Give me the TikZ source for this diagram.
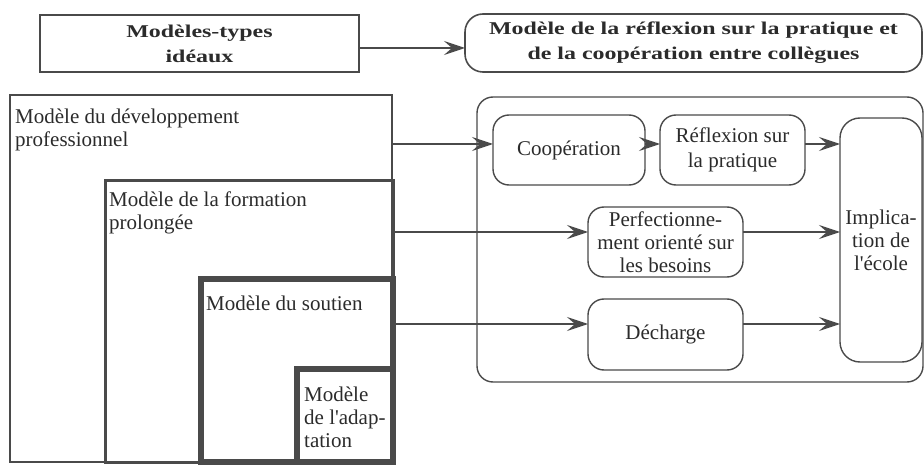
\documentclass[tikz,border=0pt]{standalone}
\usepackage{fontspec}
\setmainfont{Liberation Serif}
\newfontfamily\widebf[FakeStretch=1.33]{Liberation Serif Bold}
\usetikzlibrary{arrows.meta}
\definecolor{ink}{HTML}{4A4A4A}
\definecolor{txt}{HTML}{2B2B2B}
\tikzset{
  frame/.style={draw=ink,line width=#1,inner sep=0pt,outer sep=0pt,anchor=north west},
  rbox/.style={draw=ink,line width=1.4pt,rounded corners=16pt,inner sep=0pt,outer sep=0pt,
    anchor=north west,align=center,text=txt,font=\fontsize{21}{23}\selectfont},
  lbl/.style={inner sep=0pt,anchor=base west,align=left,text=txt,font=\fontsize{21}{23}\selectfont},
  title/.style={font=\fontsize{18}{25}\selectfont\widebf},
  arr/.style={draw=ink,line width=1.6pt,-{Stealth[length=21pt,width=14pt,inset=8pt]}},
}
\begin{document}
\begin{tikzpicture}[x=1pt,y=-1pt]
\useasboundingbox (0,0) rectangle (924,465);
% top row
\node[frame=1.6pt,minimum width=319pt,minimum height=57pt,align=center,text=txt,title]
  (top1) at (40,15) {Modèles-types\\idéaux};
\node[rbox,line width=1.6pt,minimum width=457pt,minimum height=58pt,rounded corners=18pt,title]
  (top2) at (465,14)
  {Modèle de la réflexion sur la pratique et\\de la coopération entre collègues};
% nested models
\node[frame=1.8pt,minimum width=382pt,minimum height=367pt] (big1) at (10,95) {};
\node[frame=3pt,minimum width=288pt,minimum height=281pt] (big2) at (105,181) {};
\node[frame=5.5pt,minimum width=192pt,minimum height=183pt] (big3) at (201,279) {};
\node[frame=5.5pt,minimum width=96pt,minimum height=93pt] (big4) at (297,369) {};
\node[lbl] (t1) at (15,147) {Modèle du développement\\professionnel};
\node[lbl] (t2) at (109,230) {Modèle de la formation\\prolongée};
\node[lbl] (t3) at (206,310) {Modèle du soutien};
\node[lbl] (t4) at (304,447) {Modèle\\de l\textquotesingle adap-\\tation};
% right side
\node[rbox,minimum width=446pt,minimum height=285pt] (cont) at (477,97) {};
\node[rbox,minimum width=152pt,minimum height=70pt] (coop) at (493,115) {Coopération};
\node[rbox,minimum width=145pt,minimum height=70pt,font=\fontsize{21}{25}\selectfont]
  (refl) at (660,115) {Réflexion sur\\la pratique};
\node[rbox,minimum width=82pt,minimum height=244pt,rounded corners=20pt] (impl) at (840,118)
  {Implica-\\tion de\\l\textquotesingle école};
\node[rbox,minimum width=155pt,minimum height=70pt] (perf) at (588,207)
  {Perfectionne-\\ment orienté sur\\les besoins};
\node[rbox,minimum width=155pt,minimum height=71pt] (dech) at (588,299) {Décharge};
% arrows
\coordinate (y0) at (0,48);
\coordinate (y1) at (0,144);
\coordinate (y2) at (0,232);
\coordinate (y3) at (0,324);
\draw[arr] (top1.east |- y0) -- (top2.west |- y0);
\draw[arr] (big1.east |- y1) -- (coop.west |- y1);
\draw[arr] (coop.east |- y1) -- (refl.west |- y1);
\draw[arr] (refl.east |- y1) -- (impl.west |- y1);
\draw[arr] (big2.east |- y2) -- (perf.west |- y2);
\draw[arr] (perf.east |- y2) -- (impl.west |- y2);
\draw[arr] (big3.east |- y3) -- (dech.west |- y3);
\draw[arr] (dech.east |- y3) -- (impl.west |- y3);
\end{tikzpicture}
\end{document}
